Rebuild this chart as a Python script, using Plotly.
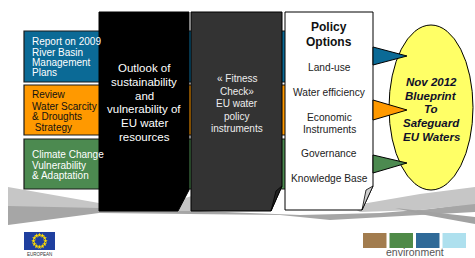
import plotly.graph_objects as go
import math

# ---- text content (data) ----
band_labels = [
    ["Report on 2009", "River Basin", "Management", "Plans"],
    ["Review", "Water Scarcity", "& Droughts", " Strategy"],
    ["Climate Change", "Vulnerability", "& Adaptation"],
]
outlook_lines = ["Outlook of", "sustainability", "and", "vulnerability of", "EU water", "resources"]
fitness_lines = ["\u00ab Fitness", "Check\u00bb", "EU water", "policy", "instruments"]
policy_title = ["Policy", "Options"]
policy_options = ["Land-use", "Water efficiency", "Economic", "Instruments", "Governance", "Knowledge Base"]
blueprint_lines = ["Nov 2012", "Blueprint", "To", "Safeguard", "EU Waters"]

# ---- styling ----
FONT = "Arial, Liberation Sans, sans-serif"
band_colors = ["#0b6a96", "#ff9900", "#4c8a50"]
band_text_colors = ["#ffffff", "#111111", "#ffffff"]
band_y = [(31, 82), (85, 135), (139, 189)]
band_text_y = [[41, 52, 62, 72], [94, 106, 116, 127], [154, 165, 175]]
tri_y = [(47, 65, 56), (100, 120, 110), (155, 173, 163)]

shapes = []
ann = []

def poly(pts, fill, line="rgba(0,0,0,0)", width=0):
    d = "M " + " L ".join(f"{x},{y}" for x, y in pts) + " Z"
    shapes.append(dict(type="path", path=d, xref="x", yref="y", fillcolor=fill,
                       line=dict(color=line, width=width), layer="above"))

def text(x, y, s, size, color, xanchor="center", bold=False, italic=False):
    if bold:
        s = "<b>" + s + "</b>"
    if italic:
        s = "<i>" + s + "</i>"
    ann.append(dict(x=x, y=y, xref="x", yref="y", text=s, showarrow=False,
                    xanchor=xanchor, yanchor="middle",
                    font=dict(family=FONT, size=size, color=color)))

# bottom landscape swoosh
poly([(8, 187), (99, 203), (99, 209), (8, 207)], "#c6c6c6")
poly([(8, 206), (99, 208), (200, 211), (300, 215), (380, 213), (430, 209), (475, 203),
      (475, 212), (420, 215), (330, 220), (280, 215), (99, 213), (8, 225)], "#a6a6a6")
poly([(172, 202), (195, 195), (195, 211), (170, 211)], "#c4c4c4")
poly([(350, 206), (420, 194), (475, 187), (475, 204), (420, 210), (360, 212)], "#c6c6c6")
poly([(395, 208), (475, 217), (475, 224), (420, 214)], "#a2a2a2")

# coloured bands
for (y0, y1), c in zip(band_y, band_colors):
    shapes.append(dict(type="rect", x0=24, x1=286, y0=y0, y1=y1, xref="x", yref="y",
                       fillcolor=c, line=dict(color="#1a1a1a", width=1.2), layer="above"))

# black box with curl
poly([(99, 12), (189, 12), (189, 190), (178, 211), (99, 211)], "#000000", "#000000", 1)
# dark grey box with curl
poly([(191, 12), (282, 12), (282, 186), (271, 211), (191, 211)], "#333333", "#000000", 1)
poly([(282, 186), (276, 191), (271, 211)], "#222222", "#000000", 0.8)
# white box with curl
poly([(285, 12), (373, 12), (373, 186), (362, 210), (285, 210)], "#ffffff", "#000000", 1)
poly([(373, 186), (366, 190), (362, 210)], "#cfcfcf", "#000000", 0.8)

# yellow egg
shapes.append(dict(type="circle", x0=389, x1=473, y0=25, y1=190, xref="x", yref="y",
                   fillcolor="#ffff66", line=dict(color="#000000", width=1), layer="above"))

# triangles pointing to the egg
for (a, b, m), c in zip(tri_y, band_colors):
    poly([(373, a), (407, m), (373, b)], c, "#000000", 1)

# band texts
for lines, ys, col in zip(band_labels, band_text_y, band_text_colors):
    for s, y in zip(lines, ys):
        text(30, y, s, 10, col, xanchor="left")

for s, y in zip(outlook_lines, [68, 82, 96, 109, 123, 137]):
    text(144, y, s, 11.5, "#ffffff")

for s, y in zip(fitness_lines, [78, 91, 103, 116, 128]):
    text(237, y, s, 10, "#eeeeee")

for s, y in zip(policy_title, [27, 42]):
    text(329, y, s, 12, "#111111", bold=True)

for s, y in zip(policy_options, [67, 92, 117, 129, 153, 178]):
    text(329, y, s, 10.2, "#222222")

for s, y in zip(blueprint_lines, [82, 96, 109, 123, 137]):
    text(431, y, s, 11.5, "#10102a", bold=True, italic=True)

# EU flag
shapes.append(dict(type="rect", x0=24, x1=55, y0=232, y1=250, xref="x", yref="y",
                   fillcolor="#1f3f9f", line=dict(width=0), layer="below"))
star_x = [39.5 + 6 * math.cos(2 * math.pi * k / 12) for k in range(12)]
star_y = [241 + 6 * math.sin(2 * math.pi * k / 12) for k in range(12)]
text(39.5, 254, "EUROPEAN", 4.5, "#333333")

# environment logo
logo_cols = ["#a27c4e", "#4f8a48", "#2f6a98", "#aee0ee"]
for i, c in enumerate(logo_cols):
    x0 = 363 + i * 26.5
    shapes.append(dict(type="rect", x0=x0, x1=x0 + 23.5, y0=233, y1=248, xref="x", yref="y",
                       fillcolor=c, line=dict(width=0), layer="above"))
text(415, 252, "environment", 10.5, "#555555")

fig = go.Figure()
fig.add_trace(go.Scatter(x=star_x, y=star_y, mode="markers",
                         marker=dict(symbol="star", size=3.5, color="#ffdd00"),
                         hoverinfo="skip", showlegend=False))
fig.update_layout(
    width=475, height=258, margin=dict(l=0, r=0, t=0, b=0),
    paper_bgcolor="#ffffff", plot_bgcolor="rgba(0,0,0,0)",
    xaxis=dict(range=[0, 475], visible=False, fixedrange=True),
    yaxis=dict(range=[258, 0], visible=False, fixedrange=True),
    shapes=shapes, annotations=ann, showlegend=False,
)
fig.write_html("out.html", config={"displayModeBar": False},
               post_script="document.body.style.margin='0';document.body.style.overflow='hidden';")
